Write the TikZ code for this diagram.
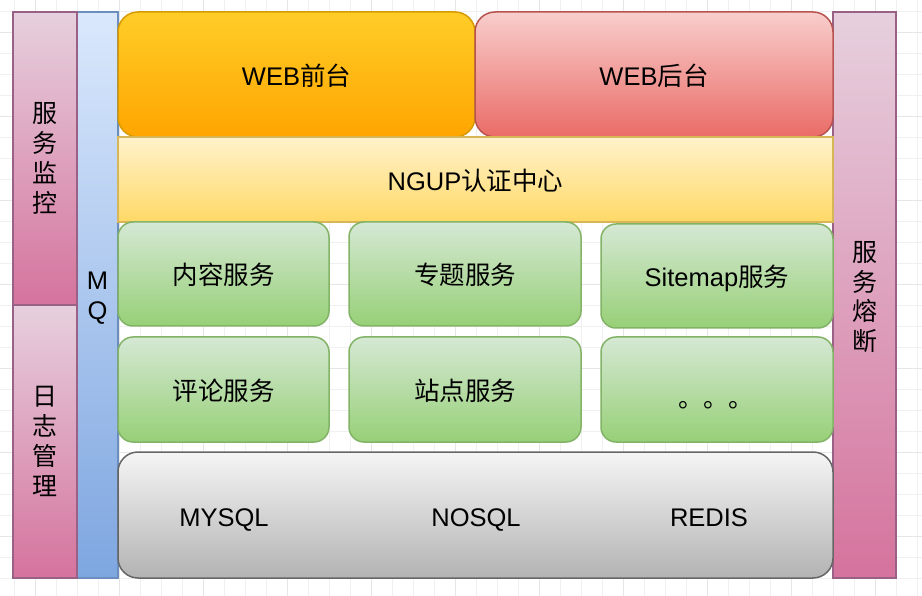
\documentclass[tikz,border=0pt]{standalone}
\usepackage{fontspec}
\setmainfont{Liberation Sans}
\newfontfamily\cjk{Noto Sans CJK SC}
\definecolor{pinkT}{HTML}{E6D0DE}
\definecolor{pinkB}{HTML}{D5739D}
\definecolor{pinkD}{HTML}{996185}
\definecolor{blueT}{HTML}{DAE8FC}
\definecolor{blueB}{HTML}{7EA6E0}
\definecolor{blueD}{HTML}{6C8EBF}
\definecolor{oranT}{HTML}{FFCD28}
\definecolor{oranB}{HTML}{FFA500}
\definecolor{oranD}{HTML}{D79B00}
\definecolor{redT}{HTML}{F8CECC}
\definecolor{redB}{HTML}{EA6B66}
\definecolor{redD}{HTML}{B85450}
\definecolor{yelT}{HTML}{FFF2CC}
\definecolor{yelB}{HTML}{FFD966}
\definecolor{yelD}{HTML}{D6B656}
\definecolor{grnT}{HTML}{D5E8D4}
\definecolor{grnB}{HTML}{97D077}
\definecolor{grnD}{HTML}{82B366}
\definecolor{gryT}{HTML}{F5F5F5}
\definecolor{gryB}{HTML}{B3B3B3}
\definecolor{gryD}{HTML}{666666}
\definecolor{gridc}{HTML}{F0F0F0}
\definecolor{gridm}{HTML}{E6E6E6}
\tikzset{
  shell/.style={draw, line width=1.5pt, rectangle, inner sep=0pt},
  box/.style={shell, text height=22pt, text depth=0pt, font=\fontsize{25.5}{30}\selectfont},
  pinkbox/.style={shell, draw=pinkD, top color=pinkT, bottom color=pinkB, align=center, font=\cjk\fontsize{25}{30}\selectfont},
  bluebox/.style={shell, draw=blueD, top color=blueT, bottom color=blueB, align=center, font=\fontsize{25.5}{30}\selectfont},
  oranbox/.style={box, draw=oranD, top color=oranT, bottom color=oranB, rounded corners=20pt},
  redbox/.style={box, draw=redD, top color=redT, bottom color=redB, rounded corners=20pt},
  yelbox/.style={box, draw=yelD, top color=yelT, bottom color=yelB},
  grnbox/.style={box, draw=grnD, top color=grnT, bottom color=grnB, rounded corners=15pt},
  grybox/.style={box, draw=gryD, top color=gryT, bottom color=gryB, rounded corners=20pt},
  lbl/.style={inner sep=0pt, text height=18pt, text depth=0pt, font=\fontsize{25.5}{30}\selectfont},
  gridline/.style={draw=gridc, line width=0.8pt},
  gridmajor/.style={draw=gridm, line width=0.8pt}
}
\begin{document}
\begin{tikzpicture}[x=1pt, y=-1pt]
\useasboundingbox (0,0) rectangle (922,596);
\fill[white] (0,0) rectangle (922,596);
\foreach \x in {14,35,...,922} \draw[gridline] (\x,0) -- (\x,596);
\foreach \y in {11,32,...,596} \draw[gridline] (0,\y) -- (922,\y);
\foreach \x in {35,119,...,922} \draw[gridmajor] (\x,0) -- (\x,596);
\foreach \y in {32,116,...,596} \draw[gridmajor] (0,\y) -- (922,\y);

% side columns
\node[bluebox, minimum width=41pt, minimum height=566pt] (mq) at (97.5,295) {};
\node[inner sep=0pt, align=center, font=\fontsize{25.5}{30}\selectfont] (mqt) at (97.5,298) {M\\Q};
\node[pinkbox, minimum width=64pt, minimum height=293pt] (mon) at (45,158.5) {服\\务\\监\\控};
\node[pinkbox, minimum width=64pt, minimum height=273pt] (log) at (45,441.5) {日\\志\\管\\理};
\node[pinkbox, minimum width=63pt, minimum height=566pt] (fuse) at (864.5,295) {};
\node[inner sep=0pt, align=center, font=\cjk\fontsize{25}{29.5}\selectfont] (fuset) at (864.5,297) {服\\务\\熔\\断};

% top
\node[oranbox, minimum width=357pt, minimum height=125pt] (webf) at (296.5,74.5) {WEB{\cjk 前台}};
\node[redbox, minimum width=358pt, minimum height=125pt] (webb) at (654,74.5) {WEB{\cjk 后台}};
\node[yelbox, minimum width=715pt, minimum height=85pt] (auth) at (475.5,179.5) {NGUP{\cjk 认证中心}};

% services
\node[grnbox, minimum width=211pt, minimum height=104pt] (s1) at (223.5,274) {\cjk 内容服务};
\node[grnbox, minimum width=232pt, minimum height=104pt] (s2) at (465,274) {\cjk 专题服务};
\node[grnbox, minimum width=232pt, minimum height=104pt] (s3) at (717,276) {Sitemap{\cjk 服务}};
\node[grnbox, minimum width=211pt, minimum height=105pt] (s4) at (223.5,389.5) {\cjk 评论服务};
\node[grnbox, minimum width=232pt, minimum height=105pt] (s5) at (465,389.5) {\cjk 站点服务};
\node[grnbox, minimum width=232pt, minimum height=105pt] (s6) at (717,389.5) {};
\node[lbl, font=\cjk\fontsize{25}{30}\selectfont] (dots) at (716,398) {。。。};

% storage
\node[grybox, minimum width=715pt, minimum height=126pt] (store) at (475.5,515) {};
\node[lbl] (mysql) at (224,517) {MYSQL};
\node[lbl] (nosql) at (476,517) {NOSQL};
\node[lbl] (redis) at (709,517) {REDIS};
\end{tikzpicture}
\end{document}
